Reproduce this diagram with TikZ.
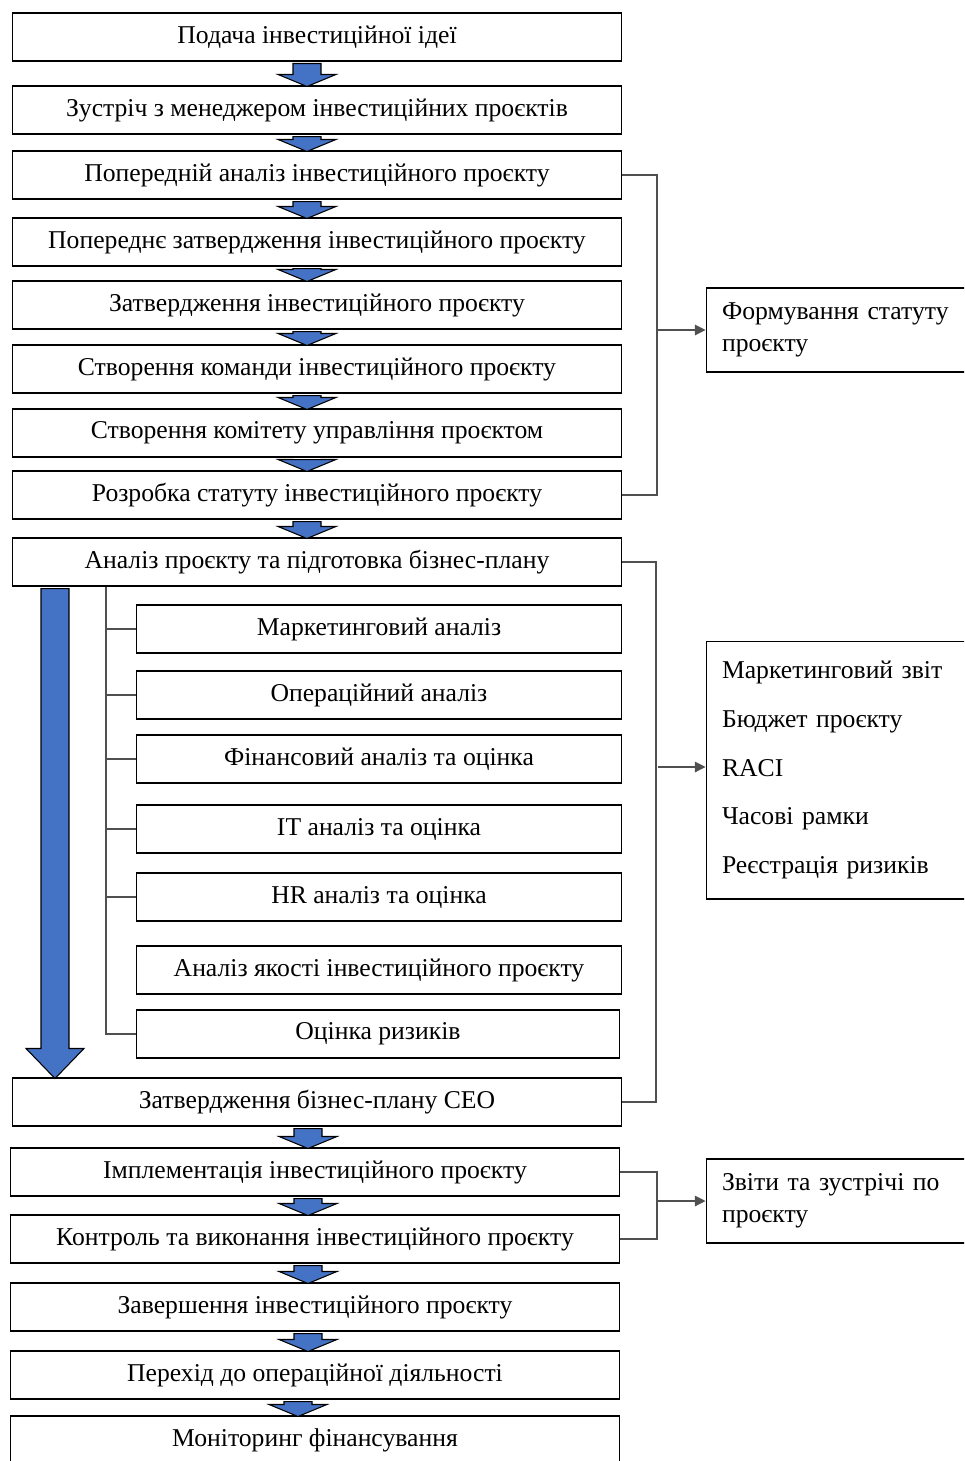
\documentclass[tikz,border=0pt]{standalone}
\usepackage{fontspec}
\setmainfont{Liberation Serif}
\usetikzlibrary{arrows.meta,calc,positioning}
\definecolor{blkF}{HTML}{4472C4}
\definecolor{brkC}{HTML}{505050}
\tikzset{
  stage/.style={draw, line width=0.6pt, minimum width=12.2cm, minimum height=0.96cm,
                inner sep=0pt, font=\fontsize{14.6}{17}\selectfont},
  sub/.style={stage, minimum width=9.72cm},
  outbox/.style={draw, line width=0.6pt, text width=4.84cm, inner xsep=0.32cm, inner ysep=0pt,
                 align=left, minimum height=1.68cm, font=\fontsize{14.6}{18.2}\selectfont},
  brk/.style={draw=brkC, line width=0.6pt},
  arr/.style={brk, -{Triangle[length=6pt,width=6pt]}},
  blk/.style={fill=blkF, draw=black, line width=0.6pt},
}
% block arrow: [head length]{from}{to}{x offset}
\newcommand\blk[4][12]{%
  \path ($(#3.north)+(#4,1)$) coordinate (tip) ($(tip |- #2.south)+(0,2)$) coordinate (top);
  \draw[blk] ($(top)+(-14,0)$) -- ($(top)+(14,0)$) -- ($(tip)+(14,-#1)$) -- ($(tip)+(29,-#1)$)
    -- (tip) -- ($(tip)+(-29,-#1)$) -- ($(tip)+(-14,-#1)$) -- cycle;}

\begin{document}
\begin{tikzpicture}[x=0.02cm, y=-0.02cm]
\useasboundingbox (0,0) rectangle (964,1461);
\clip (0,0) rectangle (964,1461);
% main stages
\node[stage] (pod) at (317,37) {Подача інвестиційної ідеї};
\node[stage] (zus) at (317,110) {Зустріч з менеджером інвестиційних проєктів};
\node[stage] (pan) at (317,175) {Попередній аналіз інвестиційного проєкту};
\node[stage] (pzt) at (317,242) {Попереднє затвердження інвестиційного проєкту};
\node[stage] (ztv) at (317,305) {Затвердження інвестиційного проєкту};
\node[stage] (kmd) at (317,369) {Створення команди інвестиційного проєкту};
\node[stage] (kmt) at (317,433) {Створення комітету управління проєктом};
\node[stage] (rst) at (317,495) {Розробка статуту інвестиційного проєкту};
\node[stage] (ana) at (317,562) {Аналіз проєкту та підготовка бізнес-плану};
% analysis parts
\node[sub] (mkt) at (379,629) {Маркетинговий аналіз};
\node[sub] (opr) at (379,695) {Операційний аналіз};
\node[sub] (fin) at (379,759) {Фінансовий аналіз та оцінка};
\node[sub] (itn) at (379,829) {IT аналіз та оцінка};
\node[sub] (hrn) at (379,897) {HR аналіз та оцінка};
\node[sub] (yak) at (379,970) {Аналіз якості інвестиційного проєкту};
\node[sub, minimum width=9.68cm] (ocr) at (378,1034) {Оцінка ризиків};
\node[stage] (ceo) at (317,1102) {Затвердження бізнес-плану CEO};
\node[stage] (imp) at (315,1172) {Імплементація інвестиційного проєкту};
\node[stage] (ktr) at (315,1239) {Контроль та виконання інвестиційного проєкту};
\node[stage] (zav) at (315,1307) {Завершення інвестиційного проєкту};
\node[stage] (per) at (315,1375) {Перехід до операційної діяльності};
\node[stage] (mon) at (315,1440) {Моніторинг фінансування};
% outputs
\node[outbox] (fst) at (843,330) {Формування статуту\\проєкту};
\node[outbox, minimum height=5.16cm, font=\fontsize{14.6}{27.8}\selectfont] (res) at (843,770)
  {Маркетинговий звіт\\Бюджет проєкту\\RACI\\Часові рамки\\Реєстрація ризиків};
\node[outbox] (zvt) at (843,1201) {Звіти та зустрічі по\\проєкту};
% block arrows
\blk{pod}{zus}{-10}
\blk{zus}{pan}{-10}
\blk{pan}{pzt}{-10}
\blk{pzt}{ztv}{-10}
\blk{ztv}{kmd}{-10}
\blk{kmd}{kmt}{-10}
\blk{kmt}{rst}{-10}
\blk{rst}{ana}{-10}
\blk[30]{ana}{ceo}{-262}
\blk{ceo}{imp}{-7}
\blk{imp}{ktr}{-7}
\blk{ktr}{zav}{-7}
\blk{zav}{per}{-7}
\blk{per}{mon}{-17}
% analysis spine
\coordinate (spine) at (106,0);
\draw[brk] (spine |- ana.south) -- (spine |- ocr.west) -- (ocr.west);
\draw[brk] (spine |- mkt.west) -- (mkt.west);
\draw[brk] (spine |- opr.west) -- (opr.west);
\draw[brk] (spine |- fin.west) -- (fin.west);
\draw[brk] (spine |- itn.west) -- (itn.west);
\draw[brk] (spine |- hrn.west) -- (hrn.west);
% brackets to outputs
\coordinate (b1) at (657,0);
\draw[brk] (pan.east) -- (pan.east -| b1) -- (rst.east -| b1) -- (rst.east);
\draw[arr] (b1 |- fst.west) -- (fst.west);
\coordinate (b2) at (656,0);
\draw[brk] (ana.east) -- (ana.east -| b2) -- (ceo.east -| b2) -- (ceo.east);
\draw[arr] ($(b2 |- res.west)+(2,-3)$) -- ($(res.west)+(0,-3)$);
\coordinate (b3) at (657,0);
\draw[brk] (imp.east) -- (imp.east -| b3) -- (ktr.east -| b3) -- (ktr.east);
\draw[arr] (b3 |- zvt.west) -- (zvt.west);
\end{tikzpicture}
\end{document}
